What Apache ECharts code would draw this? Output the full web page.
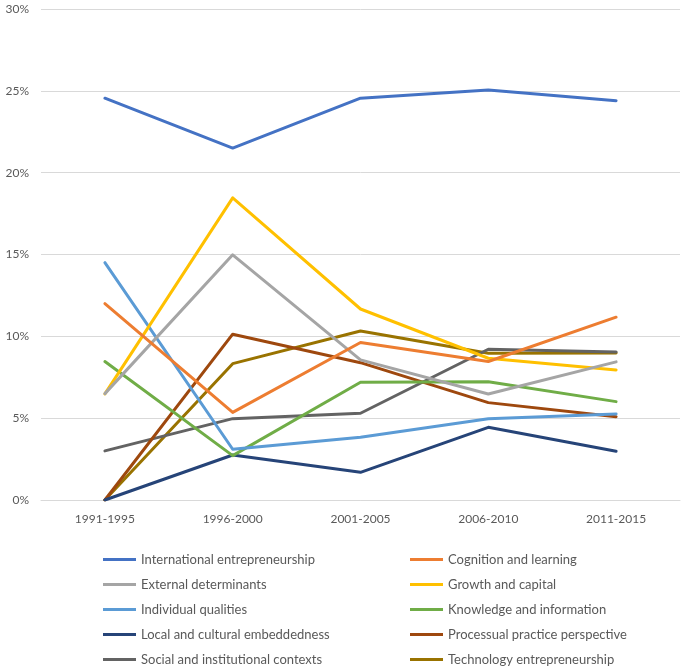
<!DOCTYPE html>
<html>
<head>
<meta charset="utf-8">
<script src="https://cdn.jsdelivr.net/npm/echarts@6/dist/echarts.min.js"></script>
<style>html,body{margin:0;padding:0;background:#fff;}#c{width:685px;height:671px;}</style>
</head>
<body>
<div id="c"></div>
<script>
const categories = ['1991-1995','1996-2000','2001-2005','2006-2010','2011-2015'];
const yTicks = [0,5,10,15,20,25,30];
const seriesNames = [
  'International entrepreneurship','Cognition and learning',
  'External determinants','Growth and capital',
  'Individual qualities','Knowledge and information',
  'Local and cultural embeddedness','Processual practice perspective',
  'Social and institutional contexts','Technology entrepreneurship'
];
const international = [24.55, 21.5, 24.55, 25.05, 24.4];
const cognition = [12.0, 5.35, 9.62, 8.46, 11.17];
const external = [6.5, 14.98, 8.56, 6.48, 8.44];
const growth = [6.48, 18.46, 11.67, 8.66, 7.95];
const individual = [14.5, 3.1, 3.83, 4.97, 5.26];
const knowledge = [8.46, 2.71, 7.19, 7.23, 6.01];
const local = [0, 2.75, 1.69, 4.44, 2.98];
const processual = [0, 10.13, 8.39, 5.95, 5.09];
const social = [3.0, 4.97, 5.3, 9.21, 9.05];
const technology = [0, 8.33, 10.33, 8.97, 8.98];
const seriesValues = [international, cognition, external, growth, individual, knowledge, local, processual, social, technology];
const colors = ['#4472C4','#ED7D31','#A5A5A5','#FFC000','#5B9BD5','#70AD47','#264478','#9E480E','#636363','#997300'];

const font = 'Lato, "Liberation Sans", sans-serif';
const chart = echarts.init(document.getElementById('c'), null, {renderer:'canvas'});
const legendBase = {
  orient: 'vertical',
  top: 548,
  itemWidth: 33,
  itemHeight: 3,
  itemGap: 12,
  icon: 'rect',
  textStyle: {fontFamily: font, fontSize: 13, color: '#595959'},
  inactiveColor: '#ccc'
};
chart.setOption({
  animation: false,
  color: colors,
  grid: {left: 41, right: 5, top: 9, bottom: 171, containLabel: false},
  legend: [
    Object.assign({}, legendBase, {left: 98, data: seriesNames.filter((n,i)=>i%2===0)}),
    Object.assign({}, legendBase, {left: 405, data: seriesNames.filter((n,i)=>i%2===1)})
  ],
  xAxis: {
    type: 'category',
    data: categories,
    boundaryGap: true,
    axisLine: {show: true, lineStyle: {color: '#d9d9d9', width: 1}},
    axisTick: {show: false},
    axisLabel: {fontFamily: font, fontSize: 12, color: '#595959', margin: 13}
  },
  yAxis: {
    type: 'value',
    min: yTicks[0],
    max: yTicks[yTicks.length-1],
    interval: 5,
    axisLine: {show: false},
    axisTick: {show: false},
    splitLine: {lineStyle: {color: '#d9d9d9', width: 1}},
    axisLabel: {fontFamily: font, fontSize: 12, color: '#595959', margin: 12, formatter: v => v + '%'}
  },
  series: seriesNames.map((name, i) => ({
    name: name,
    type: 'line',
    data: seriesValues[i],
    symbol: 'none',
    lineStyle: {width: 3, color: colors[i], cap: 'round', join: 'round'},
    itemStyle: {color: colors[i]},
    z: 10 - i
  }))
});
</script>
</body>
</html>
